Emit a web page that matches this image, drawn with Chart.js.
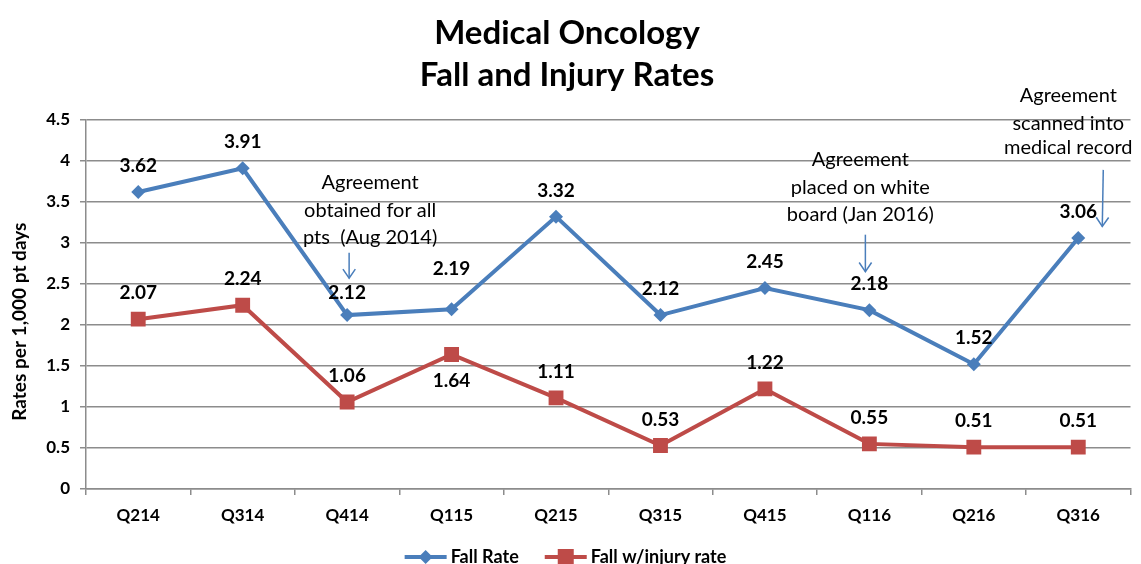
<!DOCTYPE html>
<html><head><meta charset="utf-8">
<script src="https://cdn.jsdelivr.net/npm/chart.js@4/dist/chart.umd.min.js"></script>
<style>html,body{margin:0;padding:0;background:#fff;}#wrap{width:1141px;height:564px;}</style>
</head><body><div id="wrap"><canvas id="c" width="1141" height="564"></canvas></div>
<script>
// ---- data ----
const categories = ['Q214','Q314','Q414','Q115','Q215','Q315','Q415','Q116','Q216','Q316'];
const fallRate = [3.62,3.91,2.12,2.19,3.32,2.12,2.45,2.18,1.52,3.06];
const injuryRate = [2.07,2.24,1.06,1.64,1.11,0.53,1.22,0.55,0.51,0.51];
const seriesNames = ['Fall Rate','Fall w/injury rate'];
const titleLines = ['Medical Oncology','Fall and Injury Rates'];
const yAxisTitle = 'Rates per 1,000 pt days';
const yTicks = [0,0.5,1,1.5,2,2.5,3,3.5,4,4.5];
const noteTexts = [
  ['Agreement','obtained for all','pts  (Aug 2014)'],
  ['Agreement','placed on white','board (Jan 2016)'],
  ['Agreement','scanned into','medical record']
];
const noteCategories = ['Q414','Q116','Q316'];

// ---- styles / placement ----
const BLUE = '#4A7EBB', RED = '#BE4B48', GRID = '#8C8C8C';
const FONT = 'Lato, "Open Sans", sans-serif';
const labelAdjust = [
  {2:{dy:-22}, 3:{dy:-40}},
  {3:{dy:26}}
];
// text: dx px from category, line centres in axis units; arrow ends in axis units
const notePlacement = [
  {dx:23, ys:[3.73,3.40,3.06], arrow:{dx0:2, v0:2.88, dx1:2, v1:2.57}},
  {dx:-9, ys:[4.01,3.68,3.34], arrow:{dx0:-4, v0:3.10, dx1:-4, v1:2.65}},
  {dx:-10, ys:[4.80,4.46,4.16], arrow:{dx0:25, v0:3.89, dx1:24, v1:3.20}}
];
const LEGEND_Y = 557;

const valueLabels = {
  id: 'valueLabels',
  afterDatasetsDraw(chart){
    const ctx = chart.ctx;
    ctx.save();
    ctx.font = 'bold 19px ' + FONT;
    ctx.fillStyle = '#000'; ctx.textAlign = 'center'; ctx.textBaseline = 'middle';
    chart.data.datasets.forEach((ds, di) => {
      chart.getDatasetMeta(di).data.forEach((pt, i) => {
        const a = (labelAdjust[di] && labelAdjust[di][i]) || {};
        const dy = a.dy !== undefined ? a.dy : -26;
        const dx = a.dx || 0;
        ctx.fillText(ds.data[i].toFixed(2), pt.x + dx, pt.y + dy);
      });
    });
    ctx.restore();
  }
};

const notesPlugin = {
  id: 'notes',
  afterDraw(chart){
    const ctx = chart.ctx, xs = chart.scales.x, ys = chart.scales.y;
    ctx.save();
    // y axis title
    ctx.font = 'bold 19px ' + FONT;
    ctx.fillStyle = '#000'; ctx.textAlign = 'center'; ctx.textBaseline = 'middle';
    ctx.translate(20, ys.getPixelForValue(2.04));
    ctx.rotate(-Math.PI / 2);
    ctx.fillText(yAxisTitle, 0, 0);
    ctx.setTransform(1, 0, 0, 1, 0, 0);
    // notes + arrows
    ctx.font = '20px ' + FONT;
    noteTexts.forEach((lines, n) => {
      const p = notePlacement[n];
      const cx = xs.getPixelForValue(categories.indexOf(noteCategories[n]));
      lines.forEach((t, k) => ctx.fillText(t, cx + p.dx, ys.getPixelForValue(p.ys[k])));
      const x0 = cx + p.arrow.dx0, y0 = ys.getPixelForValue(p.arrow.v0);
      const x1 = cx + p.arrow.dx1, y1 = ys.getPixelForValue(p.arrow.v1);
      ctx.strokeStyle = BLUE; ctx.lineWidth = 1.5;
      ctx.beginPath(); ctx.moveTo(x0, y0); ctx.lineTo(x1, y1); ctx.stroke();
      const ang = Math.atan2(y1 - y0, x1 - x0), L = 11, s = 0.6;
      ctx.beginPath();
      ctx.moveTo(x1 - L*Math.cos(ang - s), y1 - L*Math.sin(ang - s));
      ctx.lineTo(x1, y1);
      ctx.lineTo(x1 - L*Math.cos(ang + s), y1 - L*Math.sin(ang + s));
      ctx.stroke();
    });
    // legend (line + marker, then label)
    ctx.font = 'bold 18px ' + FONT;
    ctx.textAlign = 'left';
    const iconW = 42, gap = 4, between = 26;
    const items = chart.data.datasets.map(ds => ({ds, w: ctx.measureText(ds.label).width}));
    const total = items.reduce((s, it) => s + iconW + gap + it.w, 0) + between * (items.length - 1);
    let x = chart.width / 2 - total / 2 - 5;
    items.forEach(({ds, w}) => {
      const col = ds.borderColor;
      ctx.strokeStyle = col; ctx.fillStyle = col; ctx.lineWidth = 4;
      ctx.beginPath(); ctx.moveTo(x, LEGEND_Y); ctx.lineTo(x + iconW, LEGEND_Y); ctx.stroke();
      const mx = x + iconW / 2;
      if (ds.pointStyle === 'rectRot') {
        ctx.beginPath(); ctx.moveTo(mx, LEGEND_Y - 7); ctx.lineTo(mx + 7, LEGEND_Y);
        ctx.lineTo(mx, LEGEND_Y + 7); ctx.lineTo(mx - 7, LEGEND_Y); ctx.closePath(); ctx.fill();
      } else {
        ctx.fillRect(mx - 8, LEGEND_Y - 8, 16, 16);
      }
      ctx.fillStyle = '#000';
      ctx.fillText(ds.label, x + iconW + gap, LEGEND_Y);
      x += iconW + gap + w + between;
    });
    ctx.restore();
  }
};

new Chart(document.getElementById('c'), {
  type: 'line',
  data: {
    labels: categories,
    datasets: [
      {label: seriesNames[0], data: fallRate, borderColor: BLUE, backgroundColor: BLUE, borderWidth: 4,
       pointStyle: 'rectRot', pointRadius: 7, pointHoverRadius: 7, pointBorderWidth: 0, tension: 0},
      {label: seriesNames[1], data: injuryRate, borderColor: RED, backgroundColor: RED, borderWidth: 4,
       pointStyle: 'rect', pointRadius: 10.5, pointHoverRadius: 10.5, pointBorderWidth: 0, tension: 0}
    ]
  },
  options: {
    responsive: false, devicePixelRatio: 1, animation: false,
    layout: {padding: {left: 0, right: 7, top: 0, bottom: 0}},
    plugins: {
      tooltip: {enabled: false},
      legend: {display: false},
      title: {display: true, text: titleLines, color: '#000',
        font: {family: FONT, size: 33, weight: 'bold', lineHeight: 1.27}, padding: {top: 12, bottom: 24}}
    },
    scales: {
      x: {
        offset: true,
        grid: {offset: true, drawOnChartArea: false, drawTicks: true, tickLength: 6, color: GRID, lineWidth: 1.5},
        border: {color: GRID, width: 1.5},
        ticks: {color: '#000', font: {family: FONT, size: 17, weight: 'bold'}, padding: 10, maxRotation: 0},
        afterFit(s){ s.height = 75; }
      },
      y: {
        min: 0, max: 4.5,
        afterBuildTicks(s){ s.ticks = yTicks.map(v => ({value: v})); },
        grid: {color: GRID, lineWidth: 1.5, drawTicks: true, tickLength: 6},
        border: {color: GRID, width: 1.5},
        ticks: {color: '#000', font: {family: FONT, size: 17, weight: 'bold'}, padding: 10,
          callback: v => String(v)},
        afterFit(s){ s.width = 86; }
      }
    }
  },
  plugins: [valueLabels, notesPlugin]
});
</script></body></html>
